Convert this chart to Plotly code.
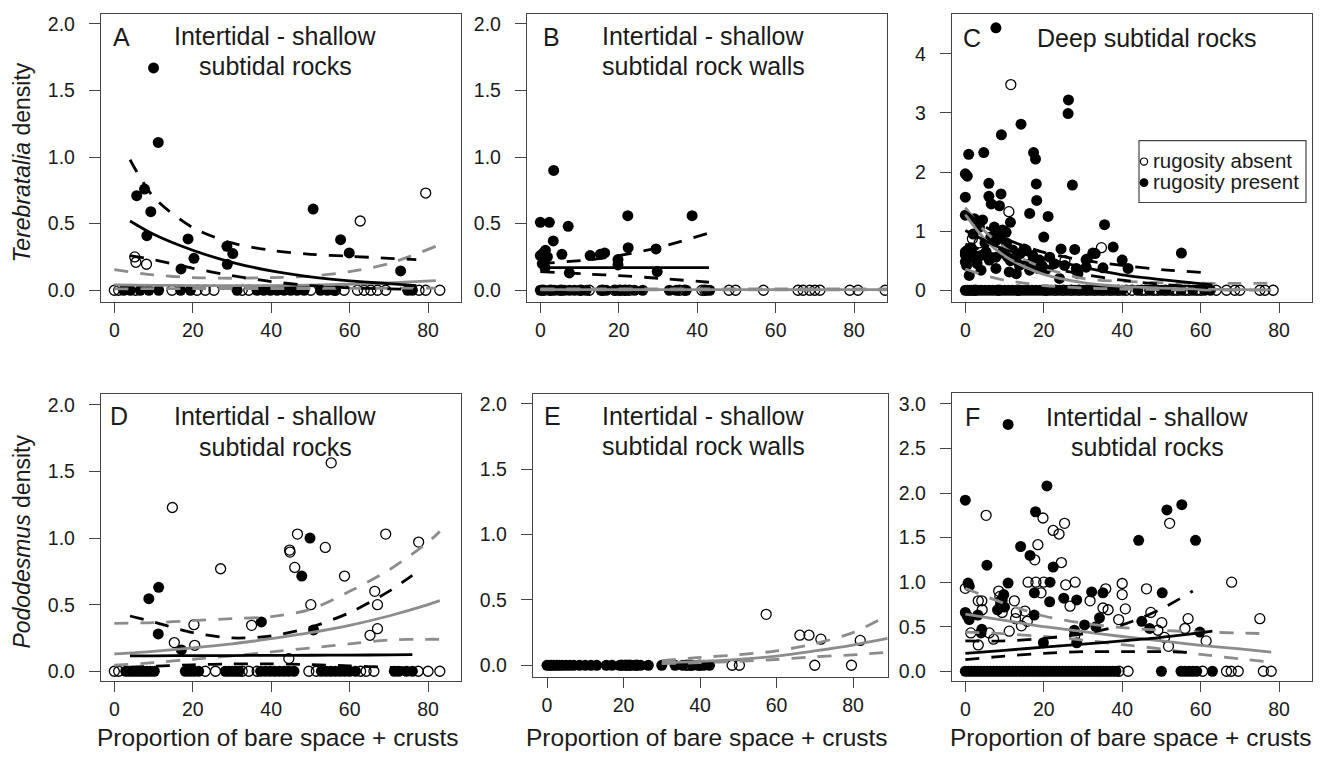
import plotly.graph_objects as go

W, H = 1321, 770
FONT = "Liberation Sans, Arial, Helvetica, sans-serif"
GRAY = "#8c8c8c"
INK = "#1a1a1a"

# ---------------- DATA ----------------
# Panel A  (Terebratalia, intertidal - shallow subtidal rocks)
A_open_pts = [(5.2, 0.25), (5.5, 0.21), (8.2, 0.195), (62.7, 0.52), (79.4, 0.73)]
A_fill_pts = [(10.0, 1.67), (11.2, 1.11), (5.7, 0.71), (7.7, 0.76), (9.3, 0.59), (8.3, 0.41),
              (18.8, 0.385), (20.3, 0.24), (17.0, 0.16), (28.7, 0.33), (30.2, 0.275), (28.8, 0.195),
              (50.7, 0.61), (57.7, 0.38), (59.9, 0.28), (73.0, 0.145)]
A_open_zero = [0, 1.1, 5.4, 14.7, 21.1, 23.2, 25.4, 32.6, 34.3, 50.1, 56.4, 58.6, 62.0, 63.7,
               65.4, 67.1, 69.2, 77.7, 79.4, 83.0]
A_fill_zero = [2.4, 4.1, 6.6, 8.8, 11.3, 16.9, 19.4, 31.3, 36.4, 38.1, 39.8, 41.5, 43.3, 45.0,
               46.6, 48.4, 52.6, 54.3, 56.0, 74.8, 76.0]
A_blk_x = [4, 10, 20, 30, 40, 50, 60, 70, 77]
A_blk_fit = [0.52, 0.42, 0.30, 0.21, 0.145, 0.10, 0.07, 0.05, 0.035]
A_blk_up = [0.98, 0.70, 0.47, 0.355, 0.30, 0.27, 0.255, 0.24, 0.23]
A_blk_lo = [0.26, 0.23, 0.165, 0.11, 0.065, 0.035, 0.018, 0.01, 0.006]
A_gry_x = [0, 10, 20, 30, 40, 50, 60, 70, 82]
A_gry_fit = [0.04, 0.037, 0.035, 0.034, 0.035, 0.038, 0.045, 0.055, 0.072]
A_gry_up = [0.155, 0.115, 0.095, 0.09, 0.095, 0.105, 0.14, 0.20, 0.33]
A_gry_lo = [0.01, 0.012, 0.013, 0.013, 0.013, 0.013, 0.014, 0.015, 0.016]

# Panel B  (Terebratalia, rock walls)
B_open_pts = []
B_fill_pts = [(3.4, 0.90), (0.0, 0.51), (2.3, 0.51), (7.1, 0.48), (22.3, 0.56), (38.7, 0.56),
              (3.3, 0.37), (0.0, 0.26), (0.8, 0.28), (1.3, 0.30), (1.8, 0.25), (5.5, 0.27),
              (12.7, 0.26), (15.3, 0.27), (16.4, 0.28), (19.8, 0.23), (19.8, 0.19), (22.4, 0.32),
              (29.5, 0.31), (7.4, 0.13), (29.8, 0.14), (0.5, 0.20), (1.2, 0.17)]
B_open_zero = [0.6, 2.7, 5.3, 10.4, 12.5, 15.9, 18.9, 20.2, 21.5, 22.7, 35.5, 36.8, 41.2, 41.9,
               48.1, 49.8, 56.9, 65.7, 67.0, 68.7, 70.0, 71.3, 78.9, 81.0, 87.9]
B_fill_zero = [0, 1.0, 2.3, 3.6, 4.9, 6.1, 7.4, 8.7, 10.0, 11.7, 15.5, 16.8, 19.3, 20.6, 21.9,
               24.0, 26.1, 32.9, 34.7, 37.2, 42.3, 43.2]
B_blk_x = [0, 13, 20, 30, 43]
B_blk_fit = [0.17, 0.17, 0.17, 0.17, 0.17]
B_blk_up = [0.20, 0.23, 0.26, 0.32, 0.43]
B_blk_lo = [0.14, 0.12, 0.11, 0.09, 0.06]
B_gry_x = [0, 30, 60, 88.4]
B_gry_fit = [0.005, 0.005, 0.005, 0.005]
B_gry_up = [0.01, 0.01, 0.01, 0.01]
B_gry_lo = [0.002, 0.002, 0.002, 0.002]

# Panel C  (Terebratalia, deep subtidal rocks)
C_open_pts = [(11.6, 3.48), (11.1, 1.33), (34.7, 0.72), (1.8, 0.87), (3.5, 0.80), (25.4, 0.50)]
C_fill_pts = [(7.8, 4.44), (26.3, 3.22), (26.2, 2.99), (14.2, 2.81), (9.2, 2.63), (0.85, 2.30),
              (4.7, 2.33), (17.4, 2.33), (17.9, 2.22), (27.3, 1.78), (0.0, 1.97), (0.5, 1.93),
              (0.0, 1.575), (6.0, 1.81), (6.0, 1.59), (6.6, 1.46), (9.1, 1.63), (8.7, 1.43),
              (18.1, 1.80), (18.2, 1.52), (16.4, 1.30), (21.1, 1.25), (11.5, 1.15), (35.5, 1.11),
              (2.3, 1.21), (4.4, 1.19), (10.4, 0.98), (9.1, 0.93), (20.0, 0.90), (3.6, 1.07),
              (7.4, 1.07), (0.0, 0.65), (0.6, 0.68), (1.0, 0.56), (0.0, 0.48), (1.9, 0.62),
              (2.7, 0.51), (4.0, 0.59), (5.3, 0.65), (6.1, 0.51), (7.8, 0.56), (9.5, 0.65),
              (10.8, 0.56), (12.9, 0.51), (12.1, 0.68), (13.8, 0.42), (15.5, 0.68), (17.2, 0.59),
              (18.9, 0.51), (21.5, 0.56), (16.4, 0.34), (18.5, 0.37), (22.7, 0.45), (24.4, 0.70),
              (27.9, 0.69), (30.8, 0.52), (32.5, 0.63), (25.3, 0.42), (28.3, 0.37), (37.7, 0.73),
              (40.0, 0.51), (41.5, 0.37), (28.7, 0.28), (24.0, 0.20), (1.0, 0.25), (4.0, 0.34),
              (7.8, 0.37), (11.2, 0.31), (55.1, 0.63), (35.1, 0.38), (30.8, 0.39), (0.0, 0.60),
              (0.3, 0.42), (1.5, 0.72), (3.0, 0.45), (5.0, 0.80), (6.5, 0.90), (8.0, 0.85),
              (9.5, 1.02), (10.5, 0.80), (11.5, 0.50), (2.0, 0.95), (14.0, 0.62), (13.0, 0.28),
              (15.0, 0.70), (16.6, 0.45), (19.5, 0.42), (20.5, 0.35), (0.0, 1.27), (31.1, 0.53),
              (33.1, 0.62)]
C_open_zero = [2.5, 8.5, 13.5, 20.5, 23, 25, 27, 29, 31, 33, 35, 37, 39, 41, 42.5, 45, 46, 48,
               49, 51, 53, 54, 56, 57, 59, 60, 64, 66.6, 68.7, 70, 75.1, 76.4, 78.5]
C_fill_zero = [0, 0.5, 1, 1.5, 2, 3, 4, 5, 6, 7, 8, 9, 10, 11, 12, 13, 14, 15, 16, 17, 18, 19,
               20, 21, 22, 24, 26, 28, 30, 32, 34, 36, 38, 40, 44, 47, 50, 52, 55, 58, 61, 62.5]
C_blk_x = [0, 5, 10, 20, 30, 40, 50, 63]
C_blk_fit = [1.01, 0.84, 0.69, 0.54, 0.39, 0.26, 0.18, 0.09]
C_blk_up = [1.33, 1.08, 0.88, 0.64, 0.51, 0.42, 0.35, 0.29]
C_blk_lo = [0.78, 0.66, 0.55, 0.40, 0.27, 0.17, 0.10, 0.04]
C_gry_x = [0, 5, 10, 15, 20, 30, 40, 50, 60, 70, 78]
C_gry_fit = [1.28, 0.86, 0.58, 0.40, 0.27, 0.13, 0.065, 0.035, 0.02, 0.012, 0.008]
C_gry_up = [1.40, 1.00, 0.72, 0.52, 0.38, 0.20, 0.15, 0.13, 0.12, 0.115, 0.12]
C_gry_lo = [0.36, 0.25, 0.17, 0.12, 0.08, 0.04, 0.02, 0.01, 0.005, 0.003, 0.002]

# Panel D  (Pododesmus, intertidal - shallow subtidal rocks)
D_open_pts = [(55.3, 1.565), (14.8, 1.23), (46.7, 1.03), (69.2, 1.03), (77.6, 0.97), (53.8, 0.93),
              (44.7, 0.91), (44.8, 0.895), (46.0, 0.78), (27.1, 0.77), (58.7, 0.715), (66.4, 0.60),
              (67.1, 0.50), (50.1, 0.50), (35.0, 0.345), (20.3, 0.35), (67.1, 0.32), (65.2, 0.27),
              (15.3, 0.215), (20.5, 0.195), (44.5, 0.095)]
D_fill_pts = [(49.9, 1.0), (47.8, 0.715), (11.3, 0.63), (8.8, 0.545), (37.5, 0.37), (50.8, 0.31),
              (11.2, 0.28), (17.1, 0.16)]
D_open_zero = [0, 1.1, 23.2, 25.8, 32.6, 34.3, 36.4, 49.6, 51.5, 62.8, 64.2, 66.2, 77.5, 80, 83]
D_fill_zero = [2.9, 3.8, 4.7, 5.6, 6.5, 7.4, 8.3, 9.2, 10.2, 18.1, 19.2, 20.3, 21.5, 28.3, 29.2,
               30.1, 31.0, 31.8, 37.3, 38.5, 39.7, 40.9, 42.1, 43.3, 44.5, 45.8, 52.8, 54.0, 55.2,
               56.4, 57.6, 58.8, 60.0, 61.5, 71.4, 72.5, 74.5, 76.0]
D_blk_x = [4, 10, 20, 30, 40, 50, 60, 70, 76]
D_blk_fit = [0.115, 0.116, 0.117, 0.118, 0.119, 0.12, 0.121, 0.123, 0.125]
D_blk_up = [0.415, 0.37, 0.29, 0.25, 0.265, 0.33, 0.44, 0.60, 0.72]
D_blk_lo = [0.03, 0.038, 0.048, 0.055, 0.055, 0.05, 0.04, 0.03, 0.025]
D_gry_x = [0, 10, 20, 30, 40, 50, 60, 70, 80, 83]
D_gry_fit = [0.13, 0.15, 0.175, 0.205, 0.245, 0.29, 0.345, 0.415, 0.50, 0.53]
D_gry_up = [0.36, 0.365, 0.38, 0.395, 0.41, 0.465, 0.60, 0.76, 0.97, 1.05]
D_gry_lo = [0.045, 0.065, 0.09, 0.115, 0.145, 0.175, 0.205, 0.235, 0.24, 0.24]

# Panel E  (Pododesmus, rock walls)
E_open_pts = [(57.3, 0.39), (66.1, 0.23), (68.5, 0.23), (71.6, 0.20), (81.9, 0.19)]
E_fill_pts = []
E_open_zero = [19.5, 20.5, 21.5, 23.5, 36.5, 37.5, 40, 48.4, 50.3, 70, 79.6]
E_fill_zero = [0, 0.6, 1.2, 1.8, 2.5, 3.2, 4, 5, 6, 7, 8.5, 10, 11.5, 13, 15.5, 17, 19, 21, 22, 23,
               24.5, 26.5, 30, 33.5, 35.5, 38, 39.5, 41, 42.5]
E_gry_x = [30, 40, 50, 60, 70, 80, 89]
E_gry_fit = [0.02, 0.03, 0.045, 0.07, 0.11, 0.155, 0.205]
E_gry_up = [0.036, 0.06, 0.08, 0.11, 0.165, 0.25, 0.38]
E_gry_lo = [0.012, 0.02, 0.03, 0.044, 0.065, 0.08, 0.10]

# Panel F  (Pododesmus, intertidal - shallow subtidal rocks)
F_open_pts = [(5.3, 1.75), (52.1, 1.66), (19.8, 1.72), (25.3, 1.66), (22.4, 1.58), (23.9, 1.54),
              (18.5, 1.42), (24.5, 1.22), (17.7, 1.25), (16.0, 1.0), (18.0, 1.0), (20.0, 1.0),
              (25.6, 0.97), (28.0, 1.0), (40.0, 0.985), (67.9, 1.0), (8.5, 0.90), (8.8, 0.84),
              (9.0, 0.79), (19.3, 0.88), (46.2, 0.925), (40.0, 0.86), (12.5, 0.79), (31.8, 0.79),
              (35.8, 0.925), (3.3, 0.79), (4.2, 0.79), (4.3, 0.69), (15.2, 0.675), (13.0, 0.66),
              (9.4, 0.66), (40.8, 0.70), (35.1, 0.71), (36.4, 0.69), (26.7, 0.73), (56.8, 0.59),
              (47.3, 0.66), (75.1, 0.59), (39.1, 0.58), (50.1, 0.545), (12.8, 0.59), (15.8, 0.56),
              (14.3, 0.51), (1.4, 0.43), (6.1, 0.43), (7.2, 0.36), (11.2, 0.45), (3.3, 0.295),
              (27.9, 0.40), (56.0, 0.48), (49.1, 0.46), (50.8, 0.38), (51.8, 0.28), (61.4, 0.34),
              (0.0, 0.93)]
F_fill_pts = [(10.9, 2.77), (20.8, 2.08), (0.0, 1.92), (17.9, 1.79), (51.4, 1.81), (55.2, 1.87),
              (58.7, 1.47), (44.2, 1.47), (14.1, 1.40), (16.5, 1.30), (22.4, 1.17), (5.5, 1.19),
              (0.7, 0.99), (1.0, 0.955), (10.9, 0.99), (21.6, 1.0), (17.6, 0.88), (9.4, 0.80),
              (9.8, 0.86), (25.1, 0.82), (32.2, 0.89), (35.1, 0.88), (50.2, 0.88), (28.4, 0.80),
              (21.5, 0.78), (8.2, 0.69), (0.0, 0.66), (0.5, 0.62), (3.2, 0.63), (17.6, 0.63),
              (34.2, 0.60), (1.0, 0.58), (45.0, 0.56), (4.2, 0.47), (4.0, 0.43), (30.4, 0.52),
              (33.3, 0.50), (47.0, 0.48), (27.8, 0.46), (19.9, 0.32), (28.4, 0.32), (59.8, 0.44),
              (9.0, 0.75), (10.0, 0.72)]
F_open_zero = [39.2, 41.5, 60.5, 66.6, 67.8, 69.6, 76.0, 78.0]
F_fill_zero = [0, 0.8, 1.6, 2.4, 3.2, 4, 4.8, 5.6, 6.4, 7.2, 8, 8.8, 9.6, 10.4, 11.2, 12, 12.8,
               13.6, 14.4, 15.2, 16, 16.8, 17.6, 18.4, 19.2, 20, 20.8, 21.6, 22.4, 23.2, 24, 24.8,
               25.6, 26.4, 27.2, 28, 28.8, 29.6, 30.4, 31.2, 32, 32.8, 33.6, 34.4, 35.2, 36, 36.8,
               37.6, 38.4, 50, 55, 56, 57, 58, 59, 63]
F_blk_x = [0, 10, 20, 30, 40, 50, 63]
F_blk_fit = [0.20, 0.235, 0.27, 0.305, 0.34, 0.38, 0.45]
F_blkci_x = [0, 10, 20, 30, 40, 50, 58]
F_blk_up = [0.34, 0.34, 0.37, 0.42, 0.52, 0.70, 0.90]
F_blk_lo = [0.13, 0.17, 0.20, 0.22, 0.22, 0.22, 0.21]
F_gry_x = [0, 10, 20, 30, 40, 50, 60, 70, 78]
F_gry_fit = [0.64, 0.57, 0.50, 0.445, 0.39, 0.34, 0.29, 0.25, 0.215]
F_gry_up = [0.93, 0.76, 0.62, 0.54, 0.49, 0.46, 0.44, 0.43, 0.42]
F_gry_lo = [0.44, 0.42, 0.39, 0.35, 0.30, 0.25, 0.19, 0.14, 0.10]

y_ticks_2 = [0, 0.5, 1.0, 1.5, 2.0]
y_text_2 = ["0.0", "0.5", "1.0", "1.5", "2.0"]
y_ticks_C = [0, 1, 2, 3, 4]
y_text_C = ["0", "1", "2", "3", "4"]
y_ticks_F = [0, 0.5, 1.0, 1.5, 2.0, 2.5, 3.0]
y_text_F = ["0.0", "0.5", "1.0", "1.5", "2.0", "2.5", "3.0"]
x_ticks = [0, 20, 40, 60, 80]

# ---------------- LAYOUT (pixel boxes) ----------------
# name: (left, right, top, bottom, xrange, yrange, yticks, ytext)
panels = {
    "A": (101, 461, 13, 302, [-3.4, 88.4], [-0.09, 2.075], y_ticks_2, y_text_2),
    "B": (527, 887, 13, 302, [-3.4, 88.4], [-0.09, 2.075], y_ticks_2, y_text_2),
    "C": (952, 1312, 13, 302, [-3.4, 88.4], [-0.2025, 4.675], y_ticks_C, y_text_C),
    "D": (101, 461, 394, 682, [-3.4, 88.4], [-0.075, 2.0825], y_ticks_2, y_text_2),
    "E": (533, 888, 394, 678, [-3.66, 89.15], [-0.0916, 2.076], y_ticks_2, y_text_2),
    "F": (952, 1312, 393, 682, [-3.4, 88.4], [-0.112, 3.123], y_ticks_F, y_text_F),
}
order = ["A", "B", "C", "D", "E", "F"]

fig = go.Figure()


def ax_ids(i):
    return ("x" if i == 1 else f"x{i}"), ("y" if i == 1 else f"y{i}")


def add_points(i, pts, zeros, filled):
    xa, ya = ax_ids(i)
    xs = [p[0] for p in pts] + list(zeros)
    ys = [p[1] for p in pts] + [0.0] * len(zeros)
    if filled:
        marker = dict(symbol="circle", size=11, color="black", line=dict(width=0))
    else:
        marker = dict(symbol="circle-open", size=10, color="black", line=dict(width=1.3, color="black"))
    fig.add_trace(go.Scatter(x=xs, y=ys, mode="markers", marker=marker, xaxis=xa, yaxis=ya,
                             showlegend=False, hoverinfo="skip"))


def add_line(i, xs, ys, color, dash):
    xa, ya = ax_ids(i)
    fig.add_trace(go.Scatter(x=xs, y=ys, mode="lines",
                             line=dict(color=color, width=2.8, dash=dash, shape="spline", smoothing=0.8),
                             xaxis=xa, yaxis=ya, showlegend=False, hoverinfo="skip"))


DASH = "14px,12px"
series = {
    "A": (A_open_pts, A_open_zero, A_fill_pts, A_fill_zero),
    "B": (B_open_pts, B_open_zero, B_fill_pts, B_fill_zero),
    "C": (C_open_pts, C_open_zero, C_fill_pts, C_fill_zero),
    "D": (D_open_pts, D_open_zero, D_fill_pts, D_fill_zero),
    "E": (E_open_pts, E_open_zero, E_fill_pts, E_fill_zero),
    "F": (F_open_pts, F_open_zero, F_fill_pts, F_fill_zero),
}
gray_lines = {
    "A": (A_gry_x, A_gry_fit, A_gry_x, A_gry_up, A_gry_lo),
    "B": (B_gry_x, B_gry_fit, B_gry_x, B_gry_up, B_gry_lo),
    "C": (C_gry_x, C_gry_fit, C_gry_x, C_gry_up, C_gry_lo),
    "D": (D_gry_x, D_gry_fit, D_gry_x, D_gry_up, D_gry_lo),
    "E": (E_gry_x, E_gry_fit, E_gry_x, E_gry_up, E_gry_lo),
    "F": (F_gry_x, F_gry_fit, F_gry_x, F_gry_up, F_gry_lo),
}
black_lines = {
    "A": (A_blk_x, A_blk_fit, A_blk_x, A_blk_up, A_blk_lo),
    "B": (B_blk_x, B_blk_fit, B_blk_x, B_blk_up, B_blk_lo),
    "C": (C_blk_x, C_blk_fit, C_blk_x, C_blk_up, C_blk_lo),
    "D": (D_blk_x, D_blk_fit, D_blk_x, D_blk_up, D_blk_lo),
    "F": (F_blk_x, F_blk_fit, F_blkci_x, F_blk_up, F_blk_lo),
}

for i, name in enumerate(order, start=1):
    op, oz, fp, fz = series[name]
    add_points(i, op, oz, False)
    add_points(i, fp, fz, True)
    gx, gfit, gcx, gup, glo = gray_lines[name]
    add_line(i, gcx, gup, GRAY, DASH)
    add_line(i, gcx, glo, GRAY, DASH)
    add_line(i, gx, gfit, GRAY, "solid")
    if name in black_lines:
        bx, bfit, bcx, bup, blo = black_lines[name]
        add_line(i, bcx, bup, "black", DASH)
        add_line(i, bcx, blo, "black", DASH)
        add_line(i, bx, bfit, "black", "solid")

layout = dict(width=W, height=H, margin=dict(l=0, r=0, t=0, b=0), autosize=False,
              paper_bgcolor="white", plot_bgcolor="white", showlegend=False,
              font=dict(family=FONT, color=INK, size=19.5))

for i, name in enumerate(order, start=1):
    l, r, t, b, xr, yr, yt, ytt = panels[name]
    xkey = "xaxis" if i == 1 else f"xaxis{i}"
    ykey = "yaxis" if i == 1 else f"yaxis{i}"
    xa, ya = ax_ids(i)
    layout[xkey] = dict(domain=[l / W, r / W], range=xr, anchor=ya, tickvals=x_ticks,
                        ticks="outside", ticklen=10, tickwidth=1.2, tickcolor="#444",
                        showline=True, mirror=True, linecolor="#444", linewidth=1.3,
                        showgrid=False, zeroline=False, fixedrange=True,
                        tickfont=dict(family=FONT, size=19.5, color=INK))
    layout[ykey] = dict(domain=[1 - b / H, 1 - t / H], range=yr, anchor=xa, tickvals=yt, ticktext=ytt,
                        ticks="outside", ticklen=11, tickwidth=1.2, tickcolor="#444",
                        showline=True, mirror=True, linecolor="#444", linewidth=1.3,
                        showgrid=False, zeroline=False, fixedrange=True, ticklabelstandoff=10,
                        tickfont=dict(family=FONT, size=19.5, color=INK))

annotations = []


def ann(text, px, py, size, angle=0, xanchor="center"):
    annotations.append(dict(text=text, x=px / W, y=1 - py / H, xref="paper", yref="paper",
                            showarrow=False, xanchor=xanchor, yanchor="middle", textangle=angle,
                            font=dict(family=FONT, size=size, color=INK)))


TS = 25
# panel letters
for letter, px, py in [("A", 121, 36), ("B", 551, 36), ("C", 972, 37),
                       ("D", 119, 416), ("E", 552, 416), ("F", 972, 417)]:
    ann(letter, px, py, TS)
# panel titles
ann("Intertidal - shallow", 275, 35, TS)
ann("subtidal rocks", 275, 65, TS)
ann("Intertidal - shallow", 703, 35, TS)
ann("subtidal rock walls", 703, 65, TS)
ann("Deep subtidal rocks", 1147, 37, TS)
ann("Intertidal - shallow", 275, 416, TS)
ann("subtidal rocks", 275, 447, TS)
ann("Intertidal - shallow", 703, 416, TS)
ann("subtidal rock walls", 703, 446, TS)
ann("Intertidal - shallow", 1147, 417, TS)
ann("subtidal rocks", 1147, 447, TS)
# axis titles
for cx in (278, 707, 1131):
    ann("Proportion of bare space + crusts", cx, 738, 24.5)
ann("<i>Terebratalia</i> density", 22, 162, 23)
annotations[-1]["textangle"] = -90
ann("<i>Pododesmus</i> density", 22, 542, 23)
annotations[-1]["textangle"] = -90
# legend text
ann("rugosity absent", 1151, 160, 20.5, xanchor="left")
ann("rugosity present", 1151, 181, 20.5, xanchor="left")
layout["annotations"] = annotations


def pcirc(cx, cy, rad, filled):
    return dict(type="circle", xref="paper", yref="paper",
                x0=(cx - rad) / W, x1=(cx + rad) / W, y0=1 - (cy + rad) / H, y1=1 - (cy - rad) / H,
                line=dict(color="black", width=1.2), fillcolor="black" if filled else "rgba(0,0,0,0)")


layout["shapes"] = [
    dict(type="rect", xref="paper", yref="paper", x0=1139 / W, x1=1306 / W,
         y0=1 - 202 / H, y1=1 - 140 / H, line=dict(color="#444", width=1.2), fillcolor="white", layer="above"),
    pcirc(1144, 161, 3.6, False),
    pcirc(1144, 182, 3.8, True),
]

fig.update_layout(**layout)
fig.write_html("out.html", config={"displayModeBar": False},
               post_script="document.body.style.margin='0px';document.body.style.overflow='hidden';")
